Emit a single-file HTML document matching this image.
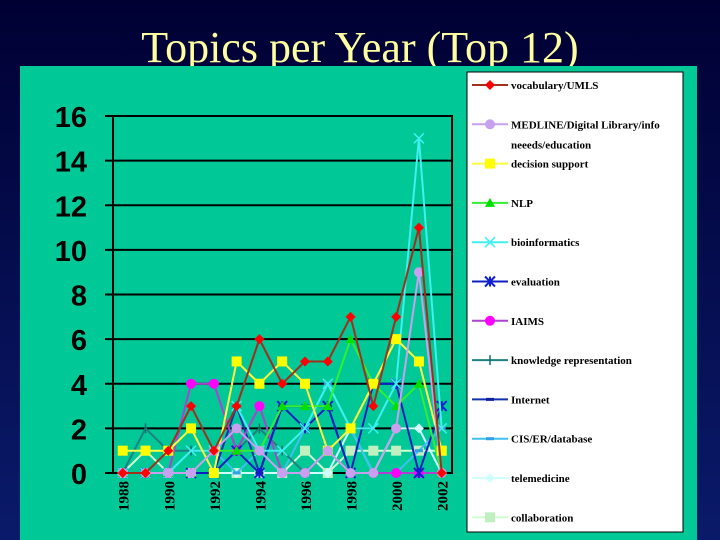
<!DOCTYPE html>
<html><head><meta charset="utf-8"><style>
html,body{margin:0;padding:0;width:720px;height:540px;overflow:hidden;background:#0a0a3a}
svg{display:block}
</style></head><body>
<svg id="c" width="720" height="540" xmlns="http://www.w3.org/2000/svg">
<defs><linearGradient id="bg" x1="0" y1="0" x2="0" y2="1"><stop offset="0" stop-color="#000033"/><stop offset="1" stop-color="#0a1a6a"/></linearGradient></defs>
<rect x="0" y="0" width="720" height="540" fill="url(#bg)"/>
<text x="360" y="62" text-anchor="middle" font-family="Liberation Serif, serif" font-size="44" fill="#ffffa0">Topics per Year (Top 12)</text>
<rect x="20" y="66" width="677" height="474" fill="#00c896"/>
<rect x="467" y="72" width="216" height="460" fill="#fff" stroke="#000" stroke-width="1"/>
<g id="plot"></g>
<g id="leg"></g>
</svg>
<script>
const years=[1988,1989,1990,1991,1992,1993,1994,1995,1996,1997,1998,1999,2000,2001,2002];
const yTicks=[0,2,4,6,8,10,12,14,16];
const xTickLabels=[1988,1990,1992,1994,1996,1998,2000,2002];
const seriesNames=["vocabulary/UMLS","MEDLINE/Digital Library/info|neeeds/education","decision support","NLP","bioinformatics","evaluation","IAIMS","knowledge representation","Internet","CIS/ER/database","telemedicine","collaboration"];
const vocabulary=[0,0,1,3,1,3,6,4,5,5,7,3,7,11,0];
const medline=[0,0,0,0,1,2,1,0,0,1,0,0,2,9,0];
const decision=[1,1,1,2,0,5,4,5,4,1,2,4,6,5,1];
const nlp=[0,0,0,0,1,1,1,3,3,3,6,4,3,4,0];
const bioinf=[0,0,0,1,1,3,1,1,2,4,2,2,4,15,2];
const evaluation=[0,0,0,0,0,1,0,3,2,3,0,4,4,0,3];
const iaims=[0,0,0,4,4,1,3,0,0,1,0,0,0,0,0];
const knowledge=[0,2,1,1,1,1,2,1,0,1,0,0,0,0,0];
const internet=[0,0,0,0,0,3,0,3,3,3,0,0,0,0,0];
const cis=[0,0,0,1,1,0,1,0,2,4,2,0,0,1,2];
const telemed=[0,0,0,0,0,0,0,0,0,0,2,0,2,2,0];
const collab=[0,1,0,0,0,0,0,0,1,0,1,1,1,1,1];
const allSeries=[vocabulary,medline,decision,nlp,bioinf,evaluation,iaims,knowledge,internet,cis,telemed,collab];
const lineCol=["#a0301c","#c8a0f0","#ffff40","#30f030","#40f0f0","#1020c0","#b040d0","#208080","#1030b0","#40c0f0","#d0ffff","#d0ffd0"];
const markCol=["#ff0000","#c8a0f0","#ffff00","#00e000","#40f0f0","#1020d0","#ff00ff","#107070","#1020a0","#30a0e0","#d0ffff","#c0f0c0"];
const marks=["diamond","circle","square","triangle","x","star","circle","plus","dash","dash","diamond","square"];
const NS="http://www.w3.org/2000/svg";
const X0=113,X1=452,Y0=473,Y1=116;
function xs(i){return 122.7+(i)*(441.7-122.7)/(years.length-1);}
function ys(v){return Y0-(v/16)*(Y0-Y1);}
function mk(tag,a,p){const e=document.createElementNS(NS,tag);for(const k in a)e.setAttribute(k,a[k]);(p||plot).appendChild(e);return e;}
const plot=document.getElementById('plot'),leg=document.getElementById('leg');
yTicks.forEach(v=>{
 const l=mk('line',{x1:X0-8,x2:X1,y1:ys(v),y2:ys(v),stroke:'#000','stroke-width':2});
 
 
 const t=mk('text',{x:87,y:ys(v)+11,'text-anchor':'end','font-family':'Liberation Sans, sans-serif','font-size':29,'font-weight':'bold',fill:'#000'});
 t.textContent=v;
 
 
});
const fr=mk('rect',{x:X0,y:Y1,width:X1-X0,height:Y0-Y1,fill:'none',stroke:'#000','stroke-width':2});


years.forEach((y,i)=>{mk('line',{x1:xs(i),x2:xs(i),y1:Y0,y2:Y0+5,stroke:'#000','stroke-width':2});});
xTickLabels.forEach(y=>{
 const i=years.indexOf(y),x=xs(i)+6,yy=Y0+8;
 const t=mk('text',{x:x,y:yy,transform:'rotate(-90 '+x+' '+yy+')','text-anchor':'end','font-family':'Liberation Serif, serif','font-size':15,'font-weight':'bold',fill:'#000'});
 t.textContent=y;
 
 
});
function marker(kind,x,y,c,p){
 const s=5;
 if(kind==='diamond')return mk('polygon',{points:`${x},${y-s} ${x+s},${y} ${x},${y+s} ${x-s},${y}`,fill:c},p);
 if(kind==='circle')return mk('circle',{cx:x,cy:y,r:s,fill:c},p);
 if(kind==='square')return mk('rect',{x:x-s,y:y-s,width:2*s,height:2*s,fill:c},p);
 if(kind==='triangle')return mk('polygon',{points:`${x},${y-s} ${x+s},${y+s-1} ${x-s},${y+s-1}`,fill:c},p);
 if(kind==='x')return mk('path',{d:`M${x-s} ${y-s}L${x+s} ${y+s}M${x+s} ${y-s}L${x-s} ${y+s}`,stroke:c,'stroke-width':1.5,fill:'none'},p);
 if(kind==='star')return mk('path',{d:`M${x-s} ${y-s}L${x+s} ${y+s}M${x+s} ${y-s}L${x-s} ${y+s}M${x} ${y-s}L${x} ${y+s}`,stroke:c,'stroke-width':2,fill:'none'},p);
 if(kind==='plus')return mk('path',{d:`M${x} ${y-s}L${x} ${y+s}`,stroke:c,'stroke-width':1.5,fill:'none'},p);
 return mk('rect',{x:x-4,y:y-1.5,width:8,height:3,fill:c},p);
}
for(let k=allSeries.length-1;k>=0;k--){
 const d=allSeries[k];
 const pl=mk('polyline',{points:d.map((v,i)=>xs(i)+','+ys(v)).join(' '),fill:'none',stroke:lineCol[k],'stroke-width':2});
 
 
 d.forEach((v,i)=>{const m=marker(marks[k],xs(i),ys(v),markCol[k]);
  
  });
}
seriesNames.forEach((n,k)=>{
 const y=85+k*39.3;
 mk('line',{x1:472,x2:508,y1:y,y2:y,stroke:lineCol[k],'stroke-width':2},leg);
 const m=marker(marks[k],490,y,markCol[k],leg);
 
 
 const parts=n.split('|');
 parts.forEach((p,j)=>{
  const t=mk('text',{x:511,y:y+4+j*20,'font-family':'Liberation Serif, serif','font-size':11,'font-weight':'bold',fill:'#000'},leg);
  t.textContent=p;
  
  
 });
});
</script>
</body></html>
